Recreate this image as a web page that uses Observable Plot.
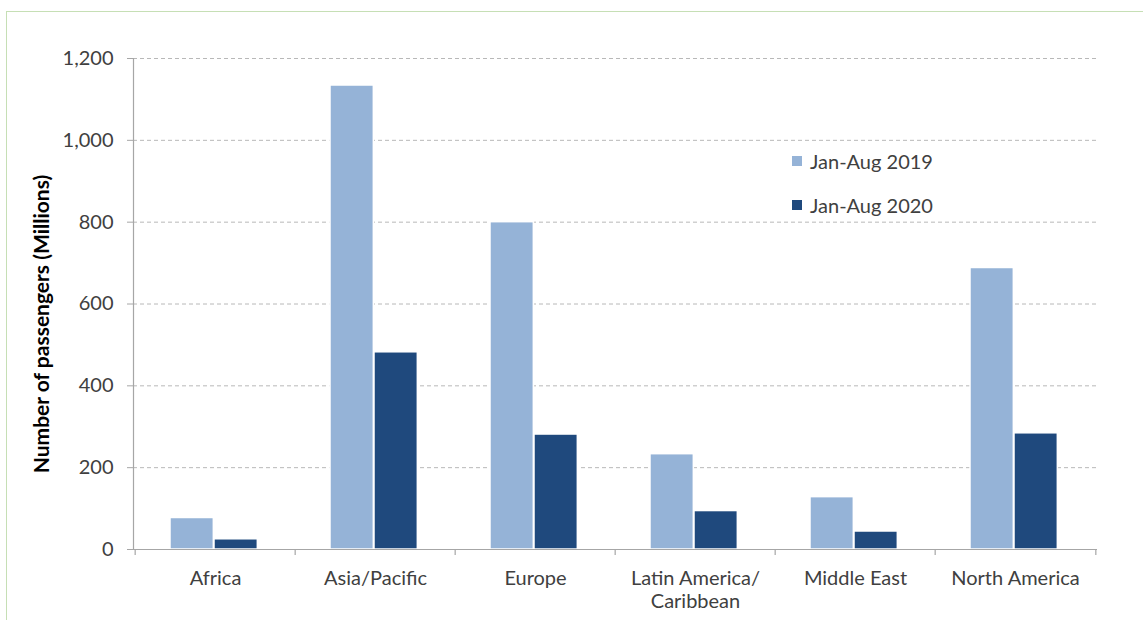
<!DOCTYPE html>
<html>
<head>
<meta charset="utf-8">
<script src="https://cdn.jsdelivr.net/npm/d3@7"></script>
<script src="https://cdn.jsdelivr.net/npm/@observablehq/plot@0.6"></script>
<style>
  html, body { margin: 0; padding: 0; background: #fff; }
  #wrap { position: relative; width: 1143px; height: 620px; overflow: hidden; font-family: Lato, "Open Sans", sans-serif; }
  #frame { position: absolute; left: 6px; top: 11px; width: 1160px; height: 700px; border: 1px solid #c6dfb5; box-sizing: border-box; }
  #chart { position: absolute; left: 0; top: 0; }
  #legend { position: absolute; left: 792px; top: 139px; font-size: 20px; color: #404040; }
  .item { display: flex; align-items: center; height: 44px; }
  .sw { width: 10px; height: 10px; margin-right: 8px; }
</style>
</head>
<body>
<div id="wrap">
  <div id="frame"></div>
  <div id="chart"></div>
  <div id="legend"></div>
</div>
<script>
const regions = ["Africa", "Asia/Pacific", "Europe", "Latin America/\nCaribbean", "Middle East", "North America"];
const series = ["Jan-Aug 2019", "Jan-Aug 2020"];
const values2019 = [77, 1134, 800, 233, 128, 688];
const values2020 = [25, 482, 281, 94, 44, 284];
const yTicks = [0, 200, 400, 600, 800, 1000, 1200];
const colors = ["#95b3d7", "#1f497d"];

const d2019 = regions.map((r, i) => ({region: r, value: values2019[i], series: series[0]}));
const d2020 = regions.map((r, i) => ({region: r, value: values2020[i], series: series[1]}));

const W = 1143, H = 620;
const mL = 133, mR = 46, mT = 58, mB = 71;
const step = (W - mL - mR) / regions.length;
const plotH = H - mT - mB;
const barW = 44;
const outer = 35;

const chart = Plot.plot({
  width: W,
  height: H,
  marginLeft: mL,
  marginRight: mR,
  marginTop: mT,
  marginBottom: mB,
  style: {fontFamily: "Lato, 'Open Sans', sans-serif", color: "#404040", background: "transparent"},
  x: {domain: regions, padding: 0, label: null},
  y: {domain: [0, 1200], label: null},
  color: {domain: series, range: colors},
  marks: [
    Plot.gridY(yTicks.filter(d => d > 0), {stroke: "#b8b8b8", strokeOpacity: 1, strokeDasharray: "4,3"}),
    Plot.barY(d2019, {x: "region", y: "value", fill: "series", insetLeft: outer, insetRight: step - outer - barW, stroke: "#ffffff", strokeWidth: 1.5}),
    Plot.barY(d2020, {x: "region", y: "value", fill: "series", insetLeft: outer + barW, insetRight: step - outer - 2 * barW, stroke: "#ffffff", strokeWidth: 1.5}),
    Plot.ruleY([0], {stroke: "#a6a6a6", strokeWidth: 1.2}),
    Plot.frame({anchor: "left", stroke: "#a6a6a6", strokeWidth: 1.2}),
    Plot.ruleX(regions, {x: d => d, dx: -step / 2, insetTop: plotH, insetBottom: -6, stroke: "#a6a6a6", strokeWidth: 1.2}),
    Plot.ruleX([regions[regions.length - 1]], {x: d => d, dx: step / 2, insetTop: plotH, insetBottom: -6, stroke: "#a6a6a6", strokeWidth: 1.2}),
    Plot.axisY({ticks: yTicks, tickFormat: d3.format(","), tickSize: 6, tickPadding: 14, stroke: "#a6a6a6", fontSize: 20, label: null}),
    Plot.axisX({tickSize: 0, tickPadding: 19, fontSize: 20, lineHeight: 1.15, label: null}),
    Plot.text(["Number of passengers (Millions)"], {frameAnchor: "left", textAnchor: "middle", dx: -91, dy: 20, rotate: -90, fontSize: 21, fontWeight: "bold", fill: "#000"})
  ]
});
document.getElementById("chart").appendChild(chart);

const legend = document.getElementById("legend");
series.forEach((s, i) => {
  const item = document.createElement("div");
  item.className = "item";
  const sw = document.createElement("div");
  sw.className = "sw";
  sw.style.background = colors[i];
  const label = document.createElement("span");
  label.textContent = s;
  item.appendChild(sw);
  item.appendChild(label);
  legend.appendChild(item);
});
</script>
</body>
</html>
